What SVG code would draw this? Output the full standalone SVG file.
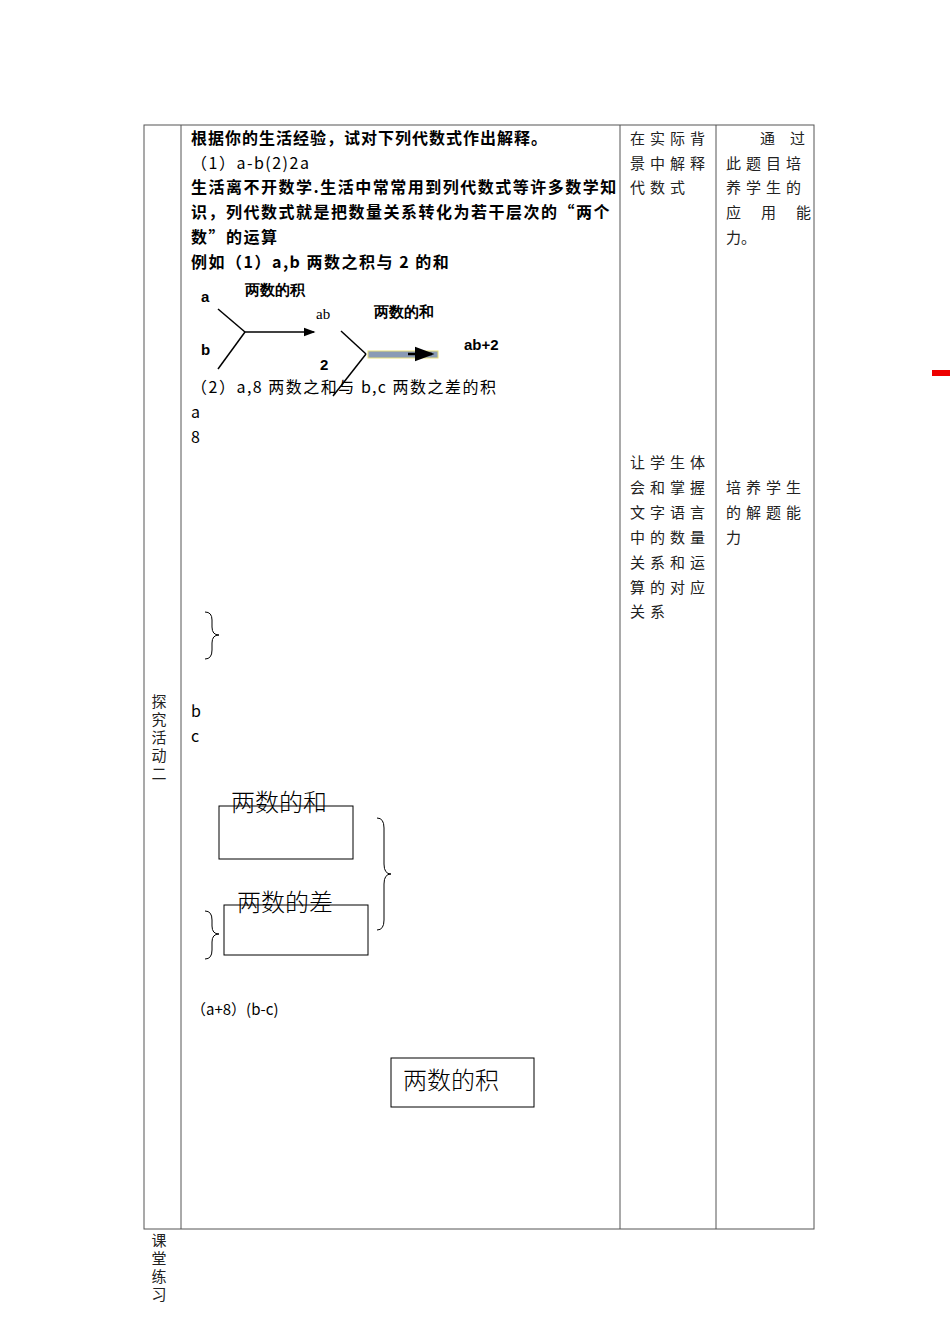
<svg xmlns="http://www.w3.org/2000/svg" width="950" height="1344" viewBox="0 0 950 1344">
<style>
.t{font-family:"Noto Sans CJK SC","Noto Sans",sans-serif;font-size:16px;letter-spacing:1.5px;fill:#000}
.b{font-weight:bold}
.s{font-family:"Noto Sans CJK SC",sans-serif;font-size:15px;fill:#222}
.v{font-family:"Noto Sans CJK SC",sans-serif;font-size:15px;fill:#222;writing-mode:tb;letter-spacing:3px}
.a{font-family:"Liberation Sans",sans-serif;font-size:15px;font-weight:bold}
.ln{stroke:#000;stroke-width:1.5;fill:none}
.bx{stroke:#000;stroke-width:1;fill:#fff}
.br{stroke:#000;stroke-width:1;fill:none}
.big{font-family:"Noto Sans CJK SC",sans-serif;font-size:24px;font-weight:300;fill:#000}
</style>
<defs><marker id="ar" markerWidth="8" markerHeight="8" refX="7" refY="4" orient="auto"><path d="M0,1 L8,4 L0,7 z" fill="#000"/></marker></defs>
<rect width="950" height="1344" fill="#fff"/>
<g id="table" stroke="#555" stroke-width="1" fill="none">
<rect x="144" y="125" width="670" height="1104"/>
<line x1="181" y1="125" x2="181" y2="1229"/>
<line x1="620" y1="125" x2="620" y2="1229"/>
<line x1="716" y1="125" x2="716" y2="1229"/>
</g>
<rect x="932" y="370" width="18" height="6" fill="#e00"/>
<g id="leftcol">
<text x="159" y="694" class="v">探究活动二</text>
<text x="159" y="1233" class="v">课堂练习</text>
</g>
<g id="col3" class="s" style="letter-spacing:5px">
<text x="630" y="144">在实际背</text><text x="630" y="169">景中解释</text><text x="630" y="193">代数式</text>
<text x="630" y="468">让学生体</text><text x="630" y="493">会和掌握</text><text x="630" y="518">文字语言</text><text x="630" y="543">中的数量</text><text x="630" y="568">关系和运</text><text x="630" y="593">算的对应</text><text x="630" y="617">关系</text>
</g>
<g id="col4" class="s">
<text x="760" y="144" style="letter-spacing:15px">通过</text>
<text x="726" y="169" style="letter-spacing:5px">此题目培</text>
<text x="726" y="193" style="letter-spacing:5px">养学生的</text>
<text x="726" y="218" style="letter-spacing:20px">应用能</text>
<text x="726" y="243">力。</text>
<text x="726" y="493" style="letter-spacing:5px">培养学生</text>
<text x="726" y="518" style="letter-spacing:5px">的解题能</text>
<text x="726" y="543">力</text>
</g>
<g id="main" class="t">
<text x="191" y="144" class="b" style="letter-spacing:1px">根据你的生活经验，试对下列代数式作出解释。</text>
<text x="191" y="169">（1）a-b(2)2a</text>
<text x="191" y="193" class="b">生活离不开数学.生活中常常用到列代数式等许多数学知</text>
<text x="191" y="218" class="b">识，列代数式就是把数量关系转化为若干层次的“两个</text>
<text x="191" y="243" class="b">数”的运算</text>
<text x="191" y="268" class="b">例如（1）a,b 两数之积与 2 的和</text>
<text x="191" y="393">（2）a,8 两数之和与 b,c 两数之差的积</text>
<text x="191" y="418">a</text><text x="191" y="443">8</text>
<text x="191" y="717">b</text><text x="191" y="742">c</text>
<text x="191" y="1015" style="font-size:15px;letter-spacing:0">（a+8）(b-c)</text>
</g>
<g id="diagram1">
<text x="201" y="302" class="a">a</text>
<text x="245" y="295" class="a">两数的积</text>
<text x="201" y="355" class="a">b</text>
<text x="316" y="319" font-family="Liberation Serif,serif" font-size="15">ab</text>
<text x="374" y="317" class="a">两数的和</text>
<text x="320" y="370" class="a">2</text>
<text x="464" y="350" class="a">ab+2</text>
<line class="ln" x1="218" y1="309" x2="245" y2="332"/>
<line class="ln" x1="245" y1="332" x2="218" y2="369"/>
<line class="ln" x1="245" y1="332" x2="314" y2="332" marker-end="url(#ar)"/>
<line class="ln" x1="341" y1="331" x2="366" y2="354"/>
<line class="ln" x1="366" y1="354" x2="333" y2="396"/>
<rect x="368" y="351" width="70" height="7" fill="#8a9bb5" stroke="#e8e07a" stroke-width="1"/>
<line x1="408" y1="354" x2="432" y2="354" stroke="#000" stroke-width="2.5" marker-end="url(#ar)"/>
</g>
<g id="brace1"><path class="br" d="M205,612 Q212,612 212,620 L212,627 Q212,635 219,635 Q212,635 212,643 L212,650 Q212,659 205,659"/></g>
<g id="box-sum"><rect class="bx" x="219" y="806" width="134" height="53"/><text x="231" y="811" class="big">两数的和</text></g>
<g id="box-diff"><rect class="bx" x="224" y="905" width="144" height="50"/><text x="237" y="911" class="big">两数的差</text></g>
<g id="brace2"><path class="br" d="M377,818 Q384,818 384,828 L384,864 Q384,874 391,874 Q384,874 384,884 L384,920 Q384,930 377,930"/></g>
<g id="brace3"><path class="br" d="M205,911 Q212,911 212,920 L212,926 Q212,934 219,934 Q212,934 212,942 L212,950 Q212,959 205,959"/></g>
<g id="box-prod"><rect class="bx" x="391" y="1058" width="143" height="49"/><text x="403" y="1089" class="big">两数的积</text></g>
</svg>
